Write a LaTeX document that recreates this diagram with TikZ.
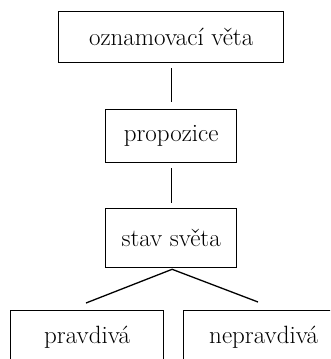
\documentclass[tikz,border=0pt]{standalone}
\usepackage{fontspec}
\setmainfont{Latin Modern Roman}
\usetikzlibrary{calc}
\begin{document}
\begin{tikzpicture}[x=1pt,y=-1pt,
  box/.style={draw,line width=1.3pt,inner sep=0pt,anchor=north west,font=\fontsize{25}{30}\selectfont},
  conn/.style={line width=1.3pt}]
\useasboundingbox (0,0) rectangle (330,359);
\clip (0,0) rectangle (330,359);
\node[box,minimum width=225pt,minimum height=51pt] (b1) at (58,11) {oznamovací věta};
\node[box,minimum width=131pt,minimum height=53pt] (b2) at (105,109) {propozice};
\node[box,minimum width=131pt,minimum height=59pt] (b3) at (105,208) {stav světa};
\node[box,minimum width=153pt,minimum height=54pt] (b4) at (10,310) {pravdivá};
\node[box,minimum width=160pt,minimum height=54pt] (b5) at (183,310) {nepravdivá};
\coordinate (l) at (86,303);
\coordinate (r) at (258,302);
\draw[conn,shorten <=5pt,shorten >=7pt] (b1.south) -- (b2.north);
\draw[conn,shorten <=5pt,shorten >=5pt] (b2.south) -- (b3.north);
\draw[conn] (l) -- ($(b3.south)+(1,1)$) -- (r);
\end{tikzpicture}
\end{document}
